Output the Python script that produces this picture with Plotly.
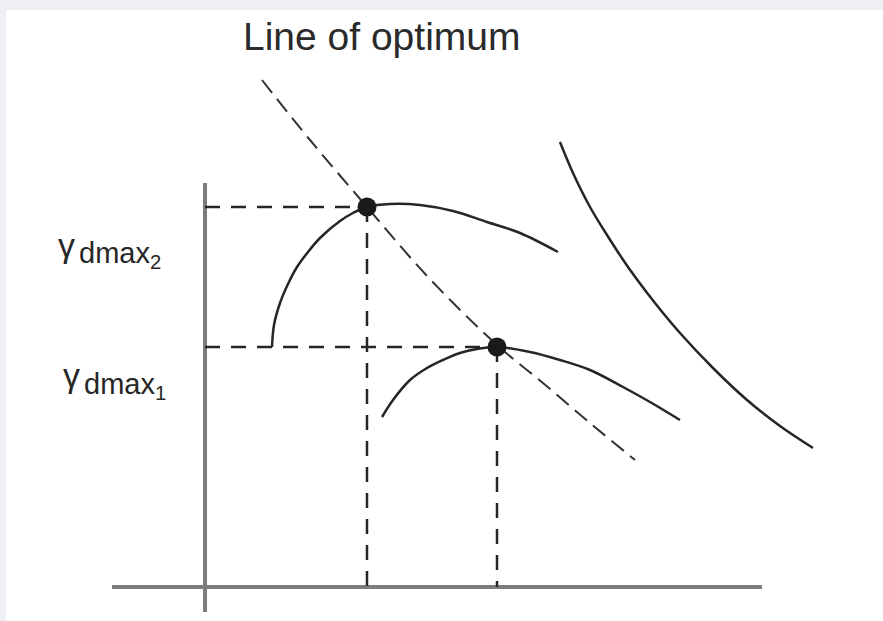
import plotly.graph_objects as go

# Compaction curves: dry density vs. water content (schematic units)
curve2_x = [6.7, 6.9, 7.5, 8.3, 9.2, 10.3, 11.5, 13.5, 14.8, 16.2, 18.5, 21.5, 24.8, 28.2, 31.5, 35.3]
curve2_y = [24.0, 26.2, 28.4, 30.3, 32.0, 33.5, 34.9, 36.6, 37.4, 38.0, 38.3, 38.2, 37.6, 36.5, 35.4, 33.5]

curve1_x = [17.7, 18.8, 20.5, 22.2, 23.8, 25.5, 27.2, 29.2, 32.5, 35.5, 38.5, 41.8, 44.5, 47.5]
curve1_y = [17.0, 18.7, 20.7, 21.9, 22.7, 23.4, 23.8, 24.0, 23.5, 22.7, 21.7, 20.0, 18.5, 16.7]

# Saturation (zero air voids) curve
zav_x = [35.5, 36.8, 38.5, 40.2, 42.3, 45.0, 47.5, 50.8, 54.2, 57.5, 60.8]
zav_y = [44.5, 41.4, 38.0, 35.2, 32.0, 28.4, 25.4, 21.9, 18.7, 16.1, 13.9]

# Line of optimum through the peaks
opt_x = [5.7, 10.5, 16.2, 22.3, 29.2, 33.8, 38.5, 43.0]
opt_y = [50.7, 44.7, 38.0, 31.0, 24.2, 20.4, 16.4, 12.7]

# Optimum points (water content, max dry density)
peak_x = [16.2, 29.2]
peak_y = [38.0, 24.0]
peak_symbol = "γ"
peak_names = ["dmax<sub>2</sub>", "dmax<sub>1</sub>"]

# Axis extents
axis_x = [-9.3, 55.7]
axis_y = [-2.5, 40.4]

title_text = "Line of optimum"

INK = "#262626"
AXIS = "#7d7d7d"
FONT = "Liberation Sans, Arial"

fig = go.Figure()

# Axes
fig.add_trace(go.Scatter(x=axis_x, y=[0, 0], mode="lines",
                         line=dict(color=AXIS, width=4), hoverinfo="skip"))
fig.add_trace(go.Scatter(x=[0, 0], y=axis_y, mode="lines",
                         line=dict(color=AXIS, width=4), hoverinfo="skip"))

# Projection lines from each peak to the axes
for px, py in zip(peak_x, peak_y):
    fig.add_trace(go.Scatter(x=[0, px], y=[py, py], mode="lines",
                             line=dict(color=INK, width=2.5, dash="15px,11px"),
                             hoverinfo="skip"))
    fig.add_trace(go.Scatter(x=[px, px], y=[py, 0], mode="lines",
                             line=dict(color=INK, width=2.5, dash="15px,11px"),
                             hoverinfo="skip"))

# Line of optimum
fig.add_trace(go.Scatter(x=opt_x, y=opt_y, mode="lines",
                         line=dict(color="#333333", width=2, dash="16px,8px", shape="spline"),
                         hoverinfo="skip"))

# Compaction and saturation curves
for cx, cy in [(curve2_x, curve2_y), (curve1_x, curve1_y), (zav_x, zav_y)]:
    fig.add_trace(go.Scatter(x=cx, y=cy, mode="lines",
                             line=dict(color=INK, width=2.5, shape="spline", smoothing=1.0),
                             hoverinfo="skip"))

# Peak markers
fig.add_trace(go.Scatter(x=peak_x, y=peak_y, mode="markers",
                         marker=dict(color="#1a1a1a", size=19), hoverinfo="skip"))

annotations = [
    dict(x=17.65, y=55.1, xref="x", yref="y", text=title_text, showarrow=False,
         xanchor="center", yanchor="middle",
         font=dict(family=FONT, size=39, color="#2a2a2a")),
]

# Peak labels on the density axis: symbol and subscripted name
label_x = [-14.9, -14.4]
symbol_y = [34.2, 21.2]
name_y = [33.2, 20.1]
for lx, sy, ny, name in zip(label_x, symbol_y, name_y, peak_names):
    annotations.append(dict(x=lx, y=sy, xref="x", yref="y",
                            text=peak_symbol, showarrow=False,
                            xanchor="left", yanchor="middle",
                            font=dict(family=FONT, size=34, color=INK)))
    annotations.append(dict(x=lx + 2.1, y=ny, xref="x", yref="y",
                            text=name, showarrow=False,
                            xanchor="left", yanchor="middle",
                            font=dict(family=FONT, size=29, color=INK)))

fig.update_layout(
    width=883, height=621,
    margin=dict(l=6, r=0, t=10, b=0),
    paper_bgcolor="#eef0f4",
    plot_bgcolor="#ffffff",
    showlegend=False,
    annotations=annotations,
    xaxis=dict(range=[-19.9, 67.8], visible=False, fixedrange=True),
    yaxis=dict(range=[-3.4, 57.7], visible=False, fixedrange=True),
)

fig.write_html("out.html")
